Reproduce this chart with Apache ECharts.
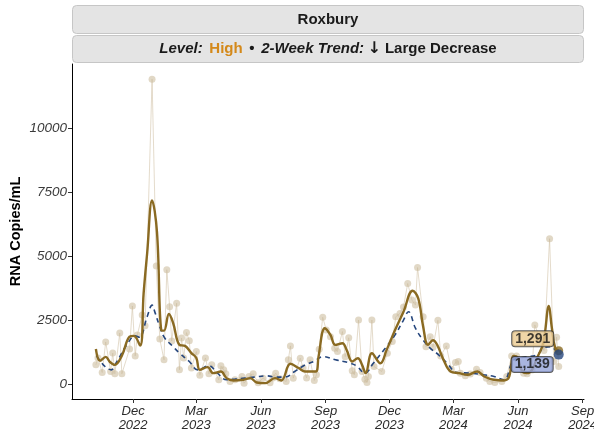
<!DOCTYPE html>
<html><head><meta charset="utf-8">
<script src="https://cdn.jsdelivr.net/npm/echarts@6/dist/echarts.min.js"></script>
<style>html,body{margin:0;padding:0;background:#fff}#c{width:594px;height:433px}</style>
</head><body><div id="c"></div>
<script>
// ---- data ----
const rawDates = ['2022-10-09','2022-10-12','2022-10-18','2022-10-23','2022-10-30','2022-11-02','2022-11-05','2022-11-12','2022-11-15','2022-11-26','2022-11-30','2022-12-04','2022-12-07','2022-12-14','2022-12-18','2022-12-28','2023-01-03','2023-01-08','2023-01-14','2023-01-18','2023-01-22','2023-01-25','2023-02-01','2023-02-05','2023-02-08','2023-02-11','2023-02-15','2023-02-19','2023-02-22','2023-03-01','2023-03-06','2023-03-14','2023-03-19','2023-03-23','2023-04-02','2023-04-05','2023-04-09','2023-04-12','2023-04-18','2023-04-25','2023-05-05','2023-05-08','2023-05-15','2023-05-21','2023-05-28','2023-06-04','2023-06-14','2023-06-18','2023-06-22','2023-06-28','2023-07-07','2023-07-10','2023-07-13','2023-07-17','2023-07-27','2023-07-31','2023-08-05','2023-08-10','2023-08-16','2023-08-19','2023-08-23','2023-08-28','2023-09-02','2023-09-08','2023-09-14','2023-09-18','2023-09-25','2023-09-29','2023-10-04','2023-10-09','2023-10-12','2023-10-18','2023-10-23','2023-10-27','2023-10-30','2023-11-01','2023-11-06','2023-11-09','2023-11-20','2023-11-28','2023-12-05','2023-12-10','2023-12-16','2023-12-21','2023-12-27','2024-01-02','2024-01-07','2024-01-10','2024-01-18','2024-01-22','2024-01-28','2024-02-01','2024-02-08','2024-02-12','2024-02-20','2024-02-27','2024-03-04','2024-03-08','2024-03-11','2024-03-18','2024-03-25','2024-04-03','2024-04-08','2024-04-17','2024-04-22','2024-04-29','2024-05-09','2024-05-16','2024-05-23','2024-05-30','2024-06-09','2024-06-14','2024-06-21','2024-06-25','2024-07-02','2024-07-08','2024-07-16','2024-07-22','2024-07-26','2024-07-29'];
const rawValues = [740,1010,440,1635,480,1200,390,1985,390,1360,3040,1090,1910,2690,2270,11900,4600,1750,935,4460,3010,1670,3150,545,1790,1010,2000,1680,620,1260,330,1010,390,740,155,700,545,390,90,155,285,20,285,390,40,220,40,230,415,195,90,935,1480,220,1000,620,230,935,130,350,1350,2600,2100,1840,1390,1260,2040,1060,1800,505,350,2490,480,180,50,285,2490,675,480,1195,1650,2620,2750,3000,3920,3270,3075,4545,2620,1450,1840,1430,2480,1090,1480,570,830,870,415,310,380,570,440,220,90,50,90,285,1090,1090,415,390,540,2300,1780,1300,5670,870,1820,675];

const smoothDates = ['2022-10-09','2022-10-15','2022-10-23','2022-10-29','2022-11-05','2022-11-15','2022-11-26','2022-12-02','2022-12-11','2022-12-16','2022-12-21','2022-12-28','2023-01-04','2023-01-10','2023-01-14','2023-01-21','2023-01-27','2023-02-05','2023-02-13','2023-02-22','2023-03-01','2023-03-06','2023-03-17','2023-03-25','2023-04-05','2023-04-13','2023-04-23','2023-05-07','2023-05-17','2023-05-26','2023-06-07','2023-06-21','2023-06-30','2023-07-13','2023-07-25','2023-08-03','2023-08-18','2023-08-22','2023-08-31','2023-09-08','2023-09-15','2023-09-25','2023-10-01','2023-10-09','2023-10-17','2023-10-23','2023-10-28','2023-11-06','2023-11-18','2023-11-27','2023-12-09','2023-12-21','2024-01-03','2024-01-11','2024-01-18','2024-01-25','2024-02-01','2024-02-07','2024-02-16','2024-02-26','2024-03-09','2024-03-21','2024-04-04','2024-04-14','2024-04-28','2024-05-12','2024-05-19','2024-05-26','2024-05-31','2024-06-07','2024-06-14','2024-06-21','2024-06-28','2024-07-07','2024-07-15','2024-07-19','2024-07-24','2024-07-29'];
const smoothValues = [1360,900,1050,850,740,1100,1840,1870,1490,3540,5100,7165,5930,2100,2075,2725,2375,1520,1480,1200,1010,545,650,415,480,220,130,155,220,50,25,220,130,780,610,480,480,1060,2170,1910,1520,1585,1325,870,1000,740,415,1195,800,1325,2100,2815,3635,3340,2230,1520,1700,1520,935,480,415,350,480,285,155,130,250,1090,1050,480,415,545,1000,1585,3040,2230,1390,1291];

const trendDates = ['2022-10-10','2022-10-22','2022-10-31','2022-11-07','2022-11-22','2022-12-04','2022-12-10','2022-12-21','2022-12-28','2023-01-01','2023-01-08','2023-01-15','2023-01-27','2023-02-05','2023-02-19','2023-03-03','2023-03-19','2023-03-31','2023-04-13','2023-04-25','2023-05-09','2023-05-23','2023-06-09','2023-06-23','2023-07-05','2023-07-19','2023-08-03','2023-08-15','2023-08-29','2023-09-15','2023-10-03','2023-10-15','2023-10-27','2023-11-08','2023-11-25','2023-12-09','2023-12-21','2023-12-28','2024-01-07','2024-01-17','2024-01-28','2024-02-09','2024-02-21','2024-03-06','2024-03-25','2024-04-14','2024-04-28','2024-05-12','2024-05-26','2024-06-12','2024-06-28','2024-07-07','2024-07-17','2024-07-29'];
const trendValues = [1090,675,545,820,1520,1870,1820,2620,3075,2800,2230,1790,1450,1200,870,545,700,415,155,180,220,260,310,260,260,480,740,870,1060,935,830,700,415,800,1390,1910,2490,2815,2170,1740,1390,1130,800,440,415,350,285,155,935,1050,1130,1390,1450,1139];

const tickDates = ['2022-12-01','2023-03-01','2023-06-01','2023-09-01','2023-12-01','2024-03-01','2024-06-01','2024-09-01'];
const tickLabels = ['Dec\n2022','Mar\n2023','Jun\n2023','Sep\n2023','Dec\n2023','Mar\n2024','Jun\n2024','Sep\n2024'];
const yTicks = [0,2500,5000,7500,10000];
const xRange = ['2022-09-05','2024-09-03'];
const yRange = [-595,12495];

// ---- helpers ----
function ts(s){const p=s.split('-').map(Number);return Date.UTC(p[0],p[1]-1,p[2]);}
const pairs=(d,v)=>d.map((x,i)=>[ts(x),v[i]]);
const tickTs = tickDates.map(ts);
const labelMap = {}; tickTs.forEach((t,i)=>labelMap[t]=tickLabels[i]);
const FONT = "'Liberation Sans', Arial, Helvetica, sans-serif";
const fmt = v => v.toLocaleString('en-US');
const lastS = smoothValues.length-1, lastT = trendValues.length-1;

const chart = echarts.init(document.getElementById('c'), null, {renderer:'canvas'});
chart.setOption({
  animation:false,
  textStyle:{fontFamily:FONT},
  grid:{left:72, right:10, top:64, bottom:34, containLabel:false, outerBoundsMode:'none'},
  xAxis:{
    type:'value', min:ts(xRange[0]), max:ts(xRange[1]), scale:true,
    axisLine:{show:true, onZero:false, lineStyle:{color:'#000', width:1}},
    axisTick:{show:true, length:4, lineStyle:{color:'#333'}, customValues:tickTs},
    axisLabel:{customValues:tickTs, formatter:v=>labelMap[v]||'', fontStyle:'italic', fontSize:13, color:'#2b2b2b', lineHeight:14, margin:5, fontFamily:FONT},
    splitLine:{show:false}
  },
  yAxis:{
    type:'value', min:yRange[0], max:yRange[1],
    name:'RNA Copies/mL', nameLocation:'middle', nameGap:49, nameRotate:90, nameMoveOverlap:false,
    nameTextStyle:{fontWeight:'bold', fontSize:14.5, color:'#000', fontFamily:FONT},
    axisLine:{show:true, onZero:false, lineStyle:{color:'#000', width:1}},
    axisTick:{show:true, length:4, lineStyle:{color:'#333'}, customValues:yTicks},
    axisLabel:{customValues:yTicks, formatter:v=>String(v), fontStyle:'italic', fontSize:13.5, color:'#3a3a3a', margin:5, fontFamily:FONT},
    splitLine:{show:false}
  },
  series:[
    {type:'line', name:'raw', data:pairs(rawDates,rawValues), symbol:'circle', symbolSize:7,
     itemStyle:{color:'rgba(205,190,160,0.6)'}, lineStyle:{color:'rgba(205,190,160,0.55)', width:1}, z:1},
    {type:'line', name:'trend', data:pairs(trendDates,trendValues), showSymbol:false, smooth:0.4,
     lineStyle:{color:'#25467d', width:1.6, type:[5,4]}, z:2},
    {type:'line', name:'smooth', data:pairs(smoothDates,smoothValues), showSymbol:false, smooth:0.4,
     lineStyle:{color:'#8a6a22', width:2.4}, z:3},
    {type:'scatter', name:'ends', z:5,
     data:[
       {value:[ts(smoothDates[lastS]), smoothValues[lastS]], symbolSize:9, itemStyle:{color:'#8a6a22'},
        label:{show:true, formatter:fmt(smoothValues[lastS]), position:'left', distance:1, offset:[0,-12],
          backgroundColor:'#ebcb91', borderColor:'#333', borderWidth:1, borderRadius:3, padding:[1,3,0,3],
          fontWeight:'bold', fontSize:14, color:'#111', fontFamily:FONT}},
       {value:[ts(trendDates[lastT]), trendValues[lastT]], symbolSize:10, itemStyle:{color:'#25467d'},
        label:{show:true, formatter:fmt(trendValues[lastT]), position:'left', distance:1, offset:[0,10],
          backgroundColor:'#93a3d8', borderColor:'#333', borderWidth:1, borderRadius:3, padding:[1,3,0,3],
          fontWeight:'bold', fontSize:14, color:'#111', fontFamily:FONT}}
     ]}
  ],
  graphic:[
    {type:'rect', shape:{x:72.5, y:5.5, width:511, height:28, r:4}, style:{fill:'#e4e4e4', stroke:'#c6c6c6', lineWidth:1}, z:10},
    {type:'rect', shape:{x:72.5, y:35.5, width:511, height:27, r:4}, style:{fill:'#e4e4e4', stroke:'#c6c6c6', lineWidth:1}, z:10},
    {type:'text', x:328, y:19.5, z:11, style:{text:'Roxbury', font:"bold 15px 'Liberation Sans', Arial, sans-serif", fill:'#1a1a1a', align:'center', verticalAlign:'middle'}},
    {type:'text', x:328, y:49, z:11, style:{
      text:'{i|Level:}  {h|High}  {b|•}  {i|2-Week Trend:} {a|↓}{b| Large Decrease}',
      align:'center', verticalAlign:'middle',
      rich:{
        i:{fontStyle:'italic', fontWeight:'bold', fontSize:15, fill:'#1a1a1a', fontFamily:FONT},
        h:{fontWeight:'bold', fontSize:15, fill:'#d4891a', fontFamily:FONT},
        b:{fontWeight:'bold', fontSize:15, fill:'#1a1a1a', fontFamily:FONT},
        a:{fontWeight:'bold', fontSize:16, fill:'#1a1a1a', fontFamily:"'DejaVu Sans', sans-serif"}
      }}}
  ]
});
</script></body></html>
